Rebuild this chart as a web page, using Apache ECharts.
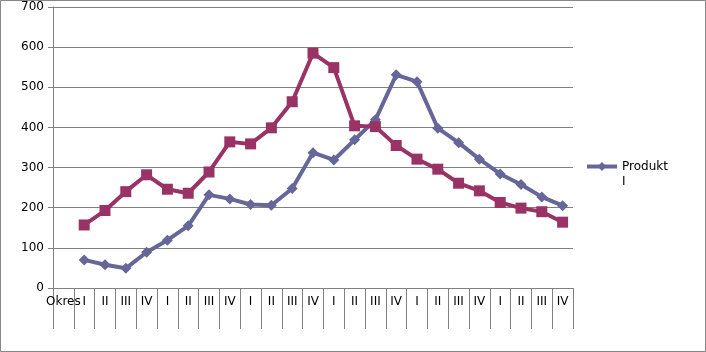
<!DOCTYPE html>
<html><head><meta charset="utf-8">
<script src="https://cdn.jsdelivr.net/npm/echarts@6/dist/echarts.min.js"></script>
<style>html,body{margin:0;padding:0;background:#fff}#c{width:706px;height:352px}</style>
</head><body><div id="c"></div>
<script>
const categories = ['Okres','I','II','III','IV','I','II','III','IV','I','II','III','IV','I','II','III','IV','I','II','III','IV','I','II','III','IV'];
const seriesNames = ['Produkt I','Produkt II'];
const produktI = [null,70,58,49,89,119,155,232,222,208,206,248,337,319,369,419,531,514,398,362,321,284,258,227,205];
const produktII = [null,157,193,240,282,246,236,289,364,359,399,464,585,549,404,402,355,321,296,261,242,213,199,190,164];
const yTicks = {min:0,max:700,interval:100};

const chart = echarts.init(document.getElementById('c'));
chart.setOption({
  animation:false,
  textStyle:{fontFamily:'DejaVu Sans'},
  graphic:[{type:'rect',shape:{x:0.5,y:0.5,width:705,height:351},style:{fill:'none',stroke:'#868686',lineWidth:1},silent:true,z:-1}],
  grid:{left:53,right:133,top:7,bottom:64},
  legend:{data:['Produkt I'],left:585,top:144,padding:0,itemWidth:30,itemHeight:11,itemGap:10,orient:'vertical',
    lineStyle:{width:4},
    formatter:function(n){return '\n' + n.replace(' ','\n');},
    textStyle:{fontSize:12,color:'#000',lineHeight:15,fontFamily:'DejaVu Sans'}},
  xAxis:{type:'category',data:categories,boundaryGap:true,
    axisLine:{lineStyle:{color:'#808080',width:1}},
    axisTick:{show:true,length:41,interval:0,lineStyle:{color:'#808080'}},
    axisLabel:{interval:0,margin:8,fontSize:12,color:'#000',fontFamily:'DejaVu Sans'}},
  yAxis:{type:'value',min:yTicks.min,max:yTicks.max,interval:yTicks.interval,
    axisLine:{show:true,lineStyle:{color:'#808080'}},
    axisTick:{show:true,length:5,lineStyle:{color:'#808080'}},
    splitLine:{lineStyle:{color:'#808080',width:1}},
    axisLabel:{fontSize:12,color:'#000',margin:9,fontFamily:'DejaVu Sans'}},
  series:[
    {name:seriesNames[0],type:'line',data:produktI,symbol:'diamond',symbolSize:11,
      lineStyle:{color:'#666699',width:4},itemStyle:{color:'#666699'},connectNulls:false},
    {name:seriesNames[1],type:'line',data:produktII,symbol:'rect',symbolSize:11,
      lineStyle:{color:'#993366',width:4},itemStyle:{color:'#993366'},connectNulls:false}
  ]
});
</script></body></html>
